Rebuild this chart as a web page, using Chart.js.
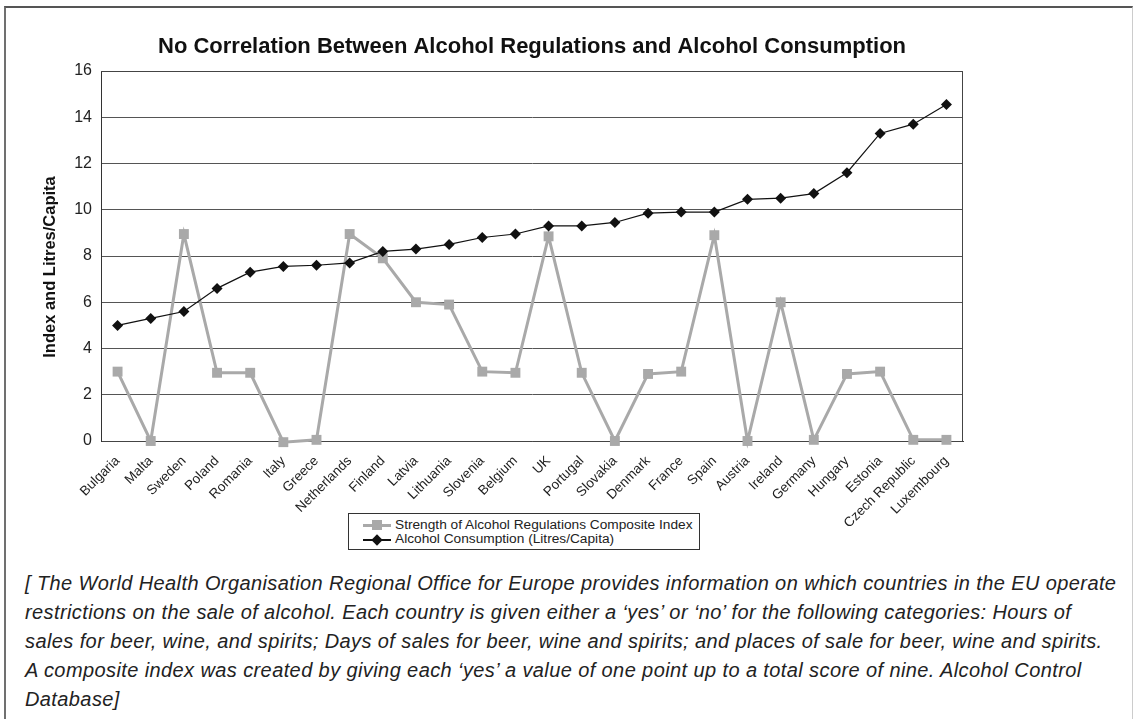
<!DOCTYPE html>
<html>
<head>
<meta charset="utf-8">
<script src="https://cdn.jsdelivr.net/npm/chart.js@4.4.0/dist/chart.umd.min.js"></script>
<style>
  html, body { margin: 0; padding: 0; background: #fff; }
  body { width: 1133px; height: 719px; position: relative; overflow: hidden;
         font-family: "Liberation Sans", Arial, sans-serif; color: #222; }
  #frame { position: absolute; left: 4px; top: 6px; width: 1126px; height: 720px;
           border-top: 2px solid #555; border-left: 2px solid #707070; border-right: 1px solid #ccc; }
  #wrap { position: absolute; left: 0; top: 0; width: 1133px; height: 560px; }
  #legend { position: absolute; left: 348px; top: 513px; width: 350px; height: 35px;
            border: 1px solid #333; background: #fff; font-size: 13.7px; }
  .row { position: absolute; left: 0; height: 14px; line-height: 14px; }
  .key { position: absolute; left: 14px; top: 7px; width: 28px; }
  .key .ln { position: absolute; left: 0; width: 28px; }
  .key .mk { position: absolute; }
  .lbl { position: absolute; left: 46px; top: 0; white-space: nowrap; }
  #caption { position: absolute; left: 25px; top: 569px; font-size: 20px; font-style: italic;
             letter-spacing: 0.4px; line-height: 29px; color: #222; white-space: nowrap; }
</style>
</head>
<body>
<div id="frame"></div>
<div id="wrap"><canvas id="alcoholChart" width="1133" height="560"></canvas></div>

<div id="legend">
  <div class="row" style="top:4px">
    <div class="key">
      <div class="ln" style="top:-1px;height:3px;background:#a9a9a9"></div>
      <div class="mk" style="left:9px;top:-5px;width:10px;height:10px;background:#a9a9a9"></div>
    </div>
    <div class="lbl">Strength of Alcohol Regulations Composite Index</div>
  </div>
  <div class="row" style="top:18px">
    <div class="key">
      <div class="ln" style="top:0;height:1.5px;background:#111"></div>
      <div class="mk" style="left:10px;top:-3.5px;width:8px;height:8px;background:#111;transform:rotate(45deg)"></div>
    </div>
    <div class="lbl">Alcohol Consumption (Litres/Capita)</div>
  </div>
</div>

<div id="caption">
[ The World Health Organisation Regional Office for Europe provides information on which countries in the EU operate<br>
restrictions on the sale of alcohol. Each country is given either a ‘yes’ or ‘no’ for the following categories: Hours of<br>
sales for beer, wine, and spirits; Days of sales for beer, wine and spirits; and places of sale for beer, wine and spirits.<br>
A composite index was created by giving each ‘yes’ a value of one point up to a total score of nine. Alcohol Control<br>
Database]
</div>

<script>
// Chart data
const countries = ['Bulgaria', 'Malta', 'Sweden', 'Poland', 'Romania', 'Italy', 'Greece',
    'Netherlands', 'Finland', 'Latvia', 'Lithuania', 'Slovenia', 'Belgium', 'UK', 'Portugal',
    'Slovakia', 'Denmark', 'France', 'Spain', 'Austria', 'Ireland', 'Germany', 'Hungary',
    'Estonia', 'Czech Republic', 'Luxembourg'];

// Strength of Alcohol Regulations Composite Index (0-9)
const regulationIndex = [3, 0, 8.95, 2.95, 2.95, -0.05, 0.05, 8.95, 7.9, 6, 5.9, 3, 2.95,
    8.85, 2.95, 0, 2.9, 3, 8.9, 0, 6, 0.05, 2.9, 3, 0.05, 0.05];

// Alcohol Consumption (Litres/Capita)
const consumption = [5.0, 5.3, 5.6, 6.6, 7.3, 7.55, 7.6, 7.7, 8.2, 8.3, 8.5, 8.8, 8.95,
    9.3, 9.3, 9.45, 9.85, 9.9, 9.9, 10.45, 10.5, 10.7, 11.6, 13.3, 13.7, 14.55];

const yTicks = [0, 2, 4, 6, 8, 10, 12, 14, 16];

const chartTitle = 'No Correlation Between Alcohol Regulations and Alcohol Consumption';
const yTitle = 'Index and Litres/Capita';
const fontFamily = '"Liberation Sans", Arial, sans-serif';

// Titles (chart title centred over the plot, y title beside the axis) and the plot box
const framePlugin = {
    id: 'framePlugin',
    afterDraw(chart) {
        const { ctx, chartArea } = chart;
        ctx.save();
        ctx.strokeStyle = '#444';
        ctx.lineWidth = 1;
        ctx.beginPath();
        ctx.moveTo(chartArea.left, chartArea.top + 0.5);
        ctx.lineTo(chartArea.right - 0.5, chartArea.top + 0.5);
        ctx.lineTo(chartArea.right - 0.5, chartArea.bottom);
        ctx.stroke();

        ctx.fillStyle = '#111';
        ctx.font = 'bold 22px ' + fontFamily;
        ctx.textAlign = 'center';
        ctx.textBaseline = 'middle';
        ctx.fillText(chartTitle, (chartArea.left + chartArea.right) / 2, 47);

        // y axis title, a little below the middle of the axis as in the original
        ctx.translate(50, chartArea.top + (chartArea.bottom - chartArea.top) / 2 + 11);
        ctx.rotate(-Math.PI / 2);
        ctx.font = 'bold 16.5px ' + fontFamily;
        ctx.fillText(yTitle, 0, 0);
        ctx.restore();
    }
};

const ctx = document.getElementById('alcoholChart');

new Chart(ctx, {
    type: 'line',
    data: {
        labels: countries,
        datasets: [
            {
                label: 'Strength of Alcohol Regulations Composite Index',
                data: regulationIndex,
                borderColor: '#a9a9a9',
                backgroundColor: '#a9a9a9',
                borderWidth: 3,
                pointStyle: 'rect',
                pointRadius: 7,
                pointHoverRadius: 7,
                pointBorderWidth: 0,
                tension: 0,
                clip: false,
                order: 1
            },
            {
                label: 'Alcohol Consumption (Litres/Capita)',
                data: consumption,
                borderColor: '#111',
                backgroundColor: '#111',
                borderWidth: 1.2,
                pointStyle: 'rectRot',
                pointRadius: 5.5,
                pointHoverRadius: 5.5,
                pointBorderWidth: 0,
                tension: 0,
                clip: false,
                order: 0
            }
        ]
    },
    options: {
        responsive: false,
        animation: false,
        layout: {
            padding: { top: 71, right: 170, left: 0, bottom: 0 }
        },
        scales: {
            x: {
                offset: true,
                grid: { display: false, drawTicks: false },
                border: { display: true, color: '#444', width: 1 },
                ticks: {
                    autoSkip: false,
                    maxRotation: 45,
                    minRotation: 45,
                    padding: 12,
                    color: '#222',
                    font: { family: fontFamily, size: 13.5 }
                },
                afterFit(scale) {
                    scale.height = 119;
                }
            },
            y: {
                min: 0,
                max: 16,
                afterBuildTicks(scale) {
                    scale.ticks = yTicks.map(v => ({ value: v }));
                },
                grid: { color: '#555', lineWidth: 1, drawTicks: false },
                border: { display: true, color: '#333', width: 1 },
                ticks: {
                    padding: 9,
                    color: '#222',
                    font: { family: fontFamily, size: 16 }
                },
                afterFit(scale) {
                    scale.width = 101;
                }
            }
        },
        plugins: {
            legend: { display: false },
            title: { display: false },
            tooltip: { enabled: false }
        }
    },
    plugins: [framePlugin]
});
</script>
</body>
</html>
